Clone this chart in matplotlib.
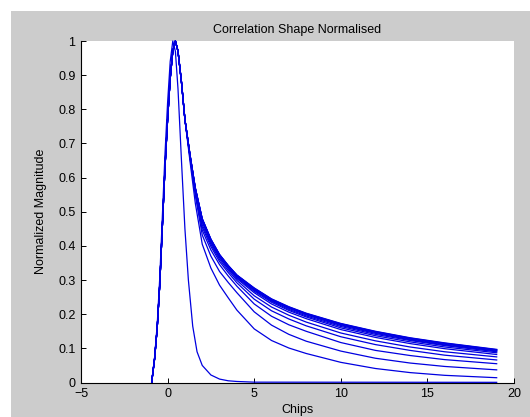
import matplotlib
matplotlib.use("Agg")
import matplotlib.pyplot as plt
from matplotlib.patches import Rectangle

plt.rcParams['font.family'] = ['Liberation Sans', 'DejaVu Sans']

# ---- data ----
x_head = [-0.92, -0.75, -0.6, -0.45, -0.3, -0.15, 0.0, 0.15, 0.3, 0.45, 0.6, 0.8, 1.0]
y_head = [0.0, 0.07, 0.16, 0.29, 0.46, 0.63, 0.77, 0.89, 0.97, 1.0, 0.97, 0.88, 0.77]

x_tail = [1.3, 1.6, 2.0, 2.5, 3.0, 3.5, 4.0, 5.0, 6.0, 7.0, 8.0, 10, 12, 14, 16, 19]

tail_c1 = [0.645, 0.525, 0.405, 0.335, 0.285, 0.248, 0.212, 0.157, 0.123, 0.101, 0.085, 0.059, 0.041, 0.029, 0.021, 0.014]
tail_c2 = [0.655, 0.548, 0.432, 0.370, 0.325, 0.293, 0.263, 0.207, 0.168, 0.141, 0.121, 0.092, 0.071, 0.057, 0.047, 0.037]
tail_c3 = [0.658, 0.555, 0.446, 0.388, 0.345, 0.312, 0.282, 0.230, 0.194, 0.169, 0.150, 0.117, 0.094, 0.079, 0.067, 0.055]
tail_c4 = [0.660, 0.559, 0.455, 0.398, 0.354, 0.322, 0.292, 0.244, 0.210, 0.186, 0.166, 0.134, 0.111, 0.094, 0.080, 0.066]
tail_c5 = [0.661, 0.562, 0.462, 0.404, 0.360, 0.328, 0.299, 0.254, 0.221, 0.197, 0.177, 0.145, 0.122, 0.104, 0.090, 0.075]
tail_c6 = [0.662, 0.564, 0.470, 0.409, 0.365, 0.333, 0.304, 0.263, 0.230, 0.206, 0.187, 0.155, 0.132, 0.114, 0.099, 0.082]
tail_k1 = [0.663, 0.566, 0.473, 0.412, 0.368, 0.336, 0.307, 0.267, 0.235, 0.211, 0.192, 0.160, 0.137, 0.119, 0.104, 0.087]
tail_k2 = [0.664, 0.567, 0.475, 0.415, 0.370, 0.338, 0.310, 0.270, 0.238, 0.214, 0.195, 0.164, 0.141, 0.123, 0.108, 0.090]
tail_k3 = [0.664, 0.568, 0.477, 0.416, 0.372, 0.340, 0.311, 0.272, 0.240, 0.217, 0.198, 0.167, 0.144, 0.125, 0.110, 0.092]
tail_k4 = [0.664, 0.569, 0.478, 0.418, 0.373, 0.341, 0.313, 0.274, 0.242, 0.219, 0.200, 0.169, 0.146, 0.127, 0.112, 0.094]
tail_k5 = [0.665, 0.569, 0.479, 0.418, 0.374, 0.342, 0.314, 0.275, 0.243, 0.220, 0.201, 0.171, 0.148, 0.129, 0.114, 0.095]
tail_k6 = [0.665, 0.570, 0.479, 0.419, 0.374, 0.342, 0.314, 0.276, 0.244, 0.221, 0.202, 0.172, 0.149, 0.130, 0.115, 0.096]
tail_top = [0.665, 0.570, 0.480, 0.420, 0.375, 0.343, 0.315, 0.277, 0.245, 0.222, 0.203, 0.173, 0.150, 0.131, 0.116, 0.097]

wide_tails = [tail_c1, tail_c2, tail_c3, tail_c4, tail_c5, tail_c6,
              tail_k1, tail_k2, tail_k3, tail_k4, tail_k5, tail_k6, tail_top]

x_narrow = [-0.92, -0.75, -0.6, -0.45, -0.3, -0.15, 0.0, 0.15, 0.3, 0.45, 0.6, 0.8,
            1.0, 1.2, 1.45, 1.7, 2.0, 2.5, 3.0, 3.5, 4.0, 5.0, 19]
y_narrow = [0.0, 0.075, 0.17, 0.31, 0.49, 0.67, 0.82, 0.94, 1.0, 0.97, 0.86, 0.65,
            0.45, 0.30, 0.165, 0.09, 0.05, 0.022, 0.010, 0.005, 0.003, 0.001, 0.0005]

xticks = [-5, 0, 5, 10, 15, 20]
yticks = [0, 0.1, 0.2, 0.3, 0.4, 0.5, 0.6, 0.7, 0.8, 0.9, 1]
ytick_labels = ['0', '0.1', '0.2', '0.3', '0.4', '0.5', '0.6', '0.7', '0.8', '0.9', '1']

# ---- figure ----
W, H = 530, 417
fig = plt.figure(figsize=(W / 100, H / 100), dpi=100, facecolor='white')
fig.patches.append(Rectangle((11 / W, 0), 1 - 11 / W, (H - 11) / H,
                             transform=fig.transFigure, facecolor='#cccccc',
                             edgecolor='none', zorder=-10))

ax = fig.add_axes([81 / W, (H - 382.5) / H, (514 - 81) / W, (382.5 - 41) / H])
ax.set_facecolor('white')

line_color = '#0000e0'
ax.plot(x_narrow, y_narrow, color=line_color, lw=0.9, clip_on=False)
for tail in wide_tails:
    ax.plot(x_head + x_tail, y_head + tail, color=line_color, lw=0.9, clip_on=False)

ax.set_xlim(-5, 20)
ax.set_ylim(0, 1)
ax.set_xticks(xticks)
ax.set_yticks(yticks)
ax.set_yticklabels(ytick_labels)

for s in ['top', 'right']:
    ax.spines[s].set_visible(False)
for s in ['left', 'bottom']:
    ax.spines[s].set_linewidth(0.8)
    ax.spines[s].set_color('black')

ax.tick_params(direction='in', length=3.5, width=0.7, labelsize=9, pad=4, colors='black')

ax.set_title('Correlation Shape Normalised', fontsize=9, pad=6)
ax.set_xlabel('Chips', fontsize=9)
ax.set_ylabel('Normalized Magnitude', fontsize=9)
ax.xaxis.set_label_coords(0.5, -0.062)
ax.yaxis.set_label_coords(-0.078, 0.5)

fig.savefig('out.png', dpi=100, facecolor=fig.get_facecolor())
